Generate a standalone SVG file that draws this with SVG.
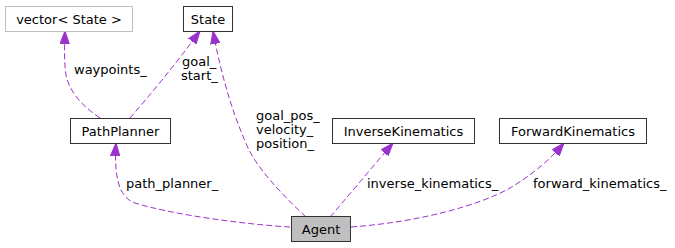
<svg xmlns="http://www.w3.org/2000/svg" width="675" height="248" viewBox="0 0 675 248">
  <defs>
    <style>
      .node rect { fill: #ffffff; stroke: #333333; stroke-width: 1; }
      .node.ext rect { stroke: #bfbfbf; }
      .node.self rect { fill: #bfbfbf; }
      text { font-family: "DejaVu Sans", sans-serif; font-size: 13px; fill: #000000; }
      .node text { text-anchor: middle; }
      .edge { fill: none; stroke: #9a32cd; stroke-width: 1; stroke-dasharray: 6,3; marker-end: url(#arrow); }
    </style>
    <marker id="arrow" markerUnits="userSpaceOnUse" markerWidth="14" markerHeight="10" refX="13" refY="5" orient="auto">
      <path d="M0,0.3 L13,5 L0,9.7 z" fill="#9a32cd" stroke="#9a32cd" stroke-width="1"/>
    </marker>
  </defs>

  <rect width="675" height="248" fill="#ffffff"/>

  <!-- connectors -->
  <g id="edges">
    <path class="edge" d="M100,118 C 84,107 70,94 66,75 C 64,63 64.5,48 65,31"/>
    <path class="edge" d="M130,118 C 150,95 175,65 200,31"/>
    <path class="edge" d="M306,217 C 280,193 258,168 249,150 C 235,120 222,80 213,31"/>
    <path class="edge" d="M290,227 C 240,224 170,214 135,203 C 118,197 114,175 116,143"/>
    <path class="edge" d="M330,217 C 345,200 368,172 393,143"/>
    <path class="edge" d="M351,227 C 420,222 480,205 510,188 C 530,176 548,162 564,143"/>

    <text x="74" y="74">waypoints_</text>
    <text x="182" y="66">goal_</text>
    <text x="181" y="80">start_</text>
    <text x="256" y="120">goal_pos_</text>
    <text x="256" y="134">velocity_</text>
    <text x="256" y="148">position_</text>
    <text x="126" y="188">path_planner_</text>
    <text x="367" y="188">inverse_kinematics_</text>
    <text x="533" y="188">forward_kinematics_</text>
  </g>

  <!-- nodes -->
  <g id="node-vector" class="node ext">
    <rect x="5.5" y="6.5" width="127" height="25"/>
    <text x="69" y="23.5">vector&lt; State &gt;</text>
  </g>
  <g id="node-state" class="node">
    <rect x="183.5" y="6.5" width="49" height="25"/>
    <text x="208" y="23.5">State</text>
  </g>
  <g id="node-pathplanner" class="node">
    <rect x="70.5" y="118.5" width="100" height="25"/>
    <text x="120.5" y="135.5">PathPlanner</text>
  </g>
  <g id="node-inversekinematics" class="node">
    <rect x="332.5" y="118.5" width="142" height="25"/>
    <text x="403.5" y="135.5">InverseKinematics</text>
  </g>
  <g id="node-forwardkinematics" class="node">
    <rect x="499.5" y="118.5" width="147" height="25"/>
    <text x="573" y="135.5">ForwardKinematics</text>
  </g>
  <g id="node-agent" class="node self">
    <rect x="291.5" y="216.5" width="59" height="25"/>
    <text x="321" y="233.5">Agent</text>
  </g>
</svg>
